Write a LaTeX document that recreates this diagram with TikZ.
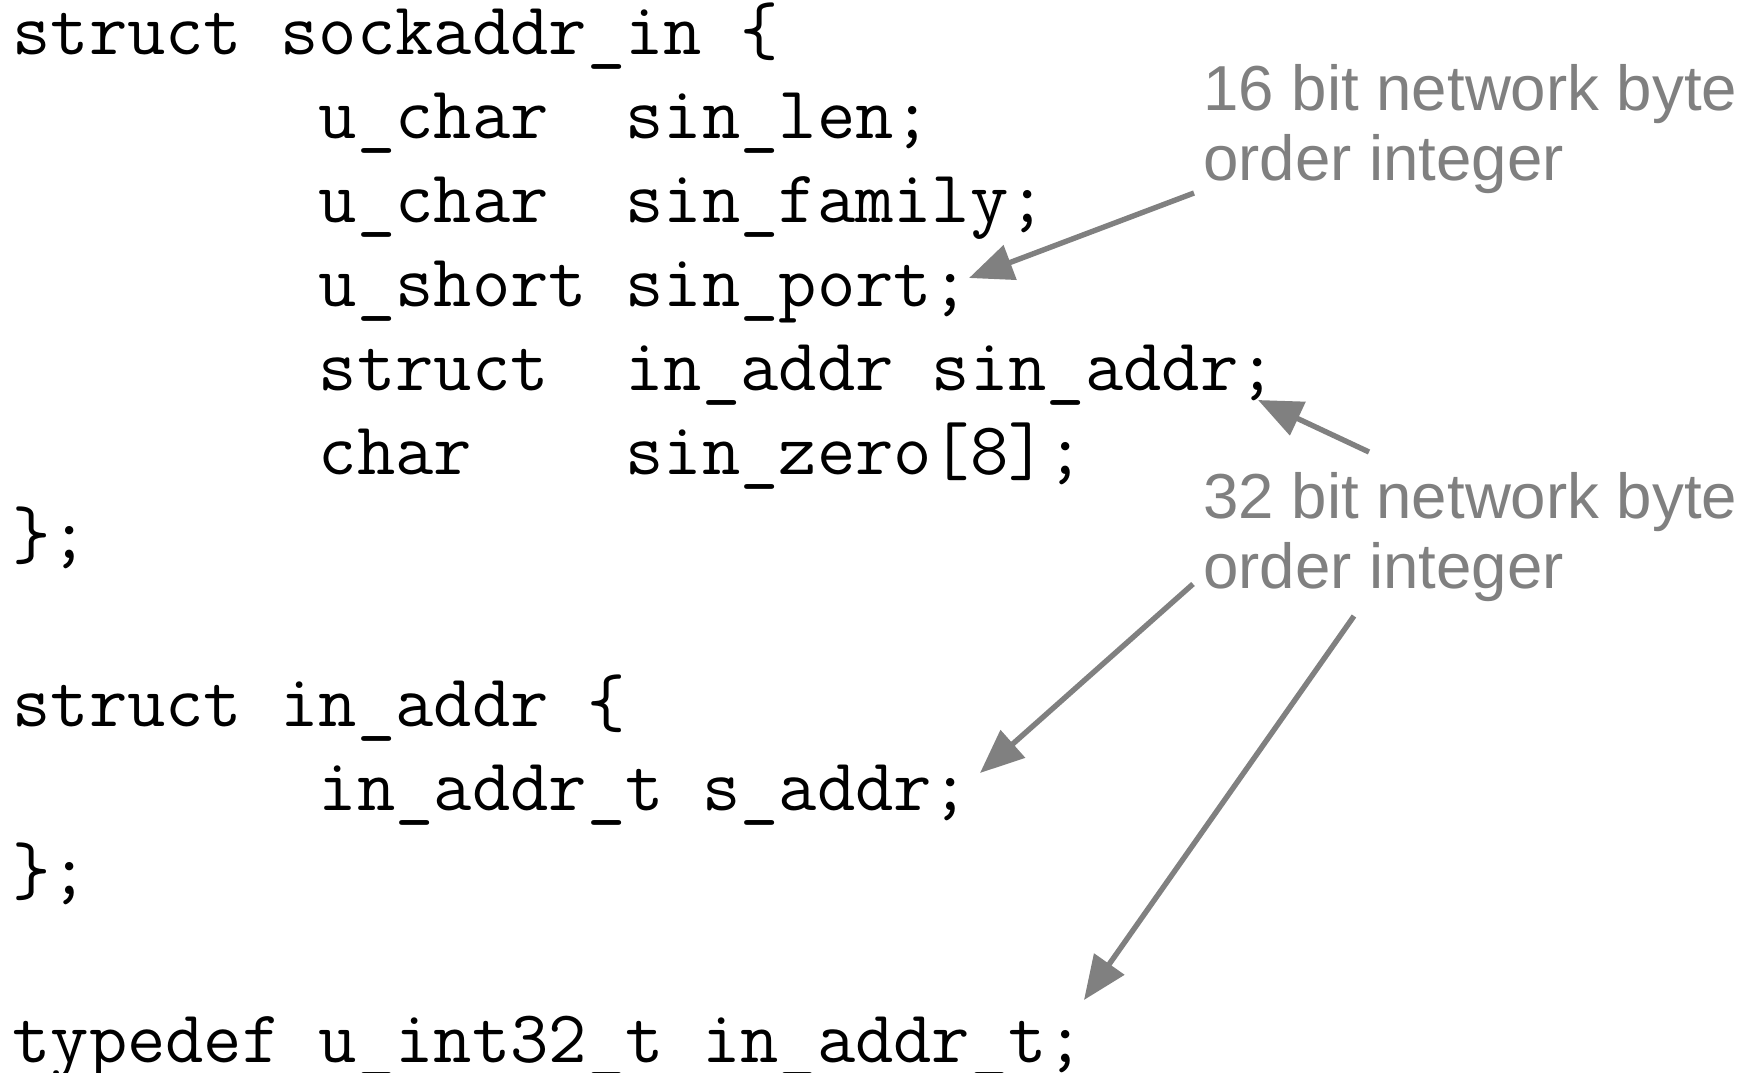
\documentclass[tikz,border=0pt]{standalone}
\usepackage{fontspec}
\setmainfont{Liberation Sans}
\usetikzlibrary{arrows.meta}
\definecolor{notegray}{RGB}{128,128,128}

\tikzset{
  code/.style={anchor=base west, inner sep=0pt, font=\ttfamily\fontsize{37.2}{42}\selectfont},
  note/.style={anchor=base west, inner sep=0pt, align=left, text=notegray,
    font=\fontsize{31.8}{35}\selectfont},
  pointer/.style={draw=notegray, line width=2.7pt, -{Triangle[length=22pt,width=18pt]}},
}

\begin{document}
\begin{tikzpicture}[x=0.5pt,y=-0.5pt]
    \useasboundingbox (0,0) rectangle (1762,1072);

    %struct sockaddr_in
    \node[code] (sockin) at (12,54) {struct sockaddr\_in \{};
    \node[code] (lenln) at (12,138) {~~~~~~~~u\_char~~sin\_len;};
    \node[code] (famln) at (12,222) {~~~~~~~~u\_char~~sin\_family;};
    \node[code] (portln) at (12,306) {~~~~~~~~u\_short~sin\_port;};
    \node[code] (addrln) at (12,390) {~~~~~~~~struct~~in\_addr~sin\_addr;};
    \node[code] (zeroln) at (12,474) {~~~~~~~~char~~~~sin\_zero[8];};
    \node[code] (closeA) at (12,558) {\};};

    %struct in_addr
    \node[code] (inaddr) at (12,726) {struct in\_addr \{};
    \node[code] (saddrln) at (12,810) {~~~~~~~~in\_addr\_t s\_addr;};
    \node[code] (closeB) at (12,894) {\};};

    %typedef
    \node[code] (tdef) at (12,1062) {typedef u\_int32\_t in\_addr\_t;};

    %notes (base = last line)
    \node[note] (note16) at (1203,180) {16 bit network byte\\order integer};
    \node[note] (note32) at (1203,588) {32 bit network byte\\order integer};

    %arrows
    \coordinate (tail16) at (1194,193);
    \coordinate (tipport) at (969,278);
    \coordinate (tailsin) at (1369,452);
    \coordinate (tipsin) at (1258,400);
    \coordinate (tails) at (1193,584);
    \coordinate (tips) at (980,773);
    \coordinate (tailtd) at (1354,616);
    \coordinate (tiptd) at (1084,1000);
    \draw[pointer] (tail16) -- (tipport);
    \draw[pointer] (tailsin) -- (tipsin);
    \draw[pointer] (tails) -- (tips);
    \draw[pointer] (tailtd) -- (tiptd);
\end{tikzpicture}
\end{document}
